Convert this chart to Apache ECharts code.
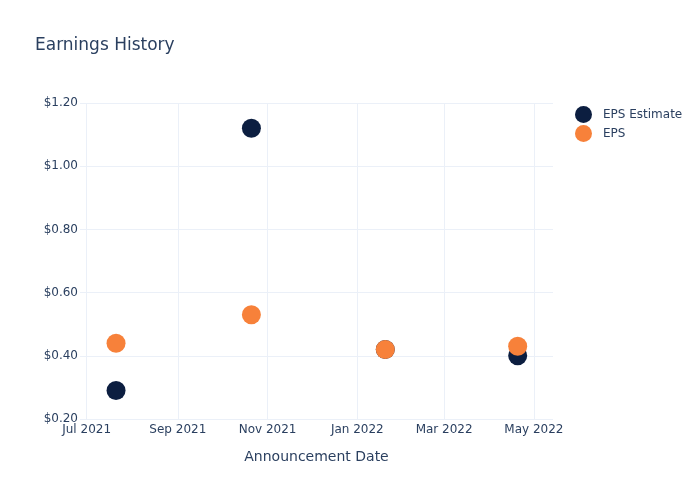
<!DOCTYPE html>
<html>
<head>
<meta charset="utf-8">
<script src="https://cdn.jsdelivr.net/npm/echarts@6/dist/echarts.min.js"></script>
<style>html,body{margin:0;padding:0;background:#fff}#c{width:700px;height:500px}</style>
</head>
<body>
<div id="c"></div>
<script>
const dates = ['2021-07-21', '2021-10-21', '2022-01-20', '2022-04-20'];
const epsEstimate = [0.29, 1.12, 0.42, 0.40];
const eps = [0.44, 0.53, 0.42, 0.43];
const xTicks = ['2021-07-01', '2021-09-01', '2021-11-01', '2022-01-01', '2022-03-01', '2022-05-01'];
const xMin = '2021-06-26 12:00';
const xMax = '2022-05-14 00:00';
const yTicks = [0.2, 0.4, 0.6, 0.8, 1.0, 1.2];

const months = ['Jan','Feb','Mar','Apr','May','Jun','Jul','Aug','Sep','Oct','Nov','Dec'];
const ts = s => new Date(s.replace(' ', 'T')).getTime();
const txt = '#2a3f5f';
const font = 'DejaVu Sans';

const chart = echarts.init(document.getElementById('c'), null, {renderer: 'canvas'});
chart.setOption({
  backgroundColor: '#fff',
  animation: false,
  textStyle: {fontFamily: font, color: txt},
  title: {
    text: 'Earnings History', left: 30, top: 32,
    textStyle: {fontFamily: font, fontSize: 17, fontWeight: 'normal', color: txt}
  },
  legend: {
    orient: 'vertical', left: 570, top: 101, itemGap: 2,
    itemWidth: 17, itemHeight: 17, icon: 'circle',
    data: ['EPS Estimate', 'EPS'],
    textStyle: {fontFamily: font, fontSize: 12, color: txt, padding: [0, 0, 0, 6]}
  },
  grid: {left: 80, right: 147, top: 103, bottom: 81, containLabel: false},
  xAxis: {
    type: 'value', min: ts(xMin), max: ts(xMax),
    name: 'Announcement Date', nameLocation: 'middle', nameGap: 31,
    nameTextStyle: {fontFamily: font, fontSize: 14, color: txt},
    axisLine: {show: false},
    axisTick: {show: false, customValues: xTicks.map(ts)},
    splitLine: {show: false},
    axisLabel: {
      customValues: xTicks.map(ts), margin: 5,
      fontFamily: font, fontSize: 12, color: txt, hideOverlap: false,
      formatter: v => { const d = new Date(v); return months[d.getMonth()] + ' ' + d.getFullYear(); }
    }
  },
  yAxis: {
    type: 'value', min: yTicks[0], max: yTicks[yTicks.length - 1], interval: 0.2,
    axisLine: {show: false}, axisTick: {show: false},
    splitLine: {show: true, lineStyle: {color: '#ebf0f8', width: 1}},
    axisLabel: {margin: 2, fontFamily: font, fontSize: 12, color: txt,
      formatter: v => '$' + v.toFixed(2)}
  },
  series: [
    {
      name: 'EPS Estimate', type: 'scatter', symbolSize: 19, z: 2,
      itemStyle: {color: '#0c1e40', opacity: 1},
      data: dates.map((d, i) => [ts(d), epsEstimate[i]]),
      markLine: {
        silent: true, symbol: 'none', animation: false, z: 0,
        label: {show: false},
        lineStyle: {color: '#ebf0f8', width: 1, type: 'solid'},
        emphasis: {disabled: true},
        data: xTicks.map(t => ({xAxis: ts(t)}))
      }
    },
    {
      name: 'EPS', type: 'scatter', symbolSize: 19, z: 3,
      itemStyle: {color: '#f7813a', opacity: 1},
      data: dates.map((d, i) => [ts(d), eps[i]])
    }
  ]
});
</script>
</body>
</html>
